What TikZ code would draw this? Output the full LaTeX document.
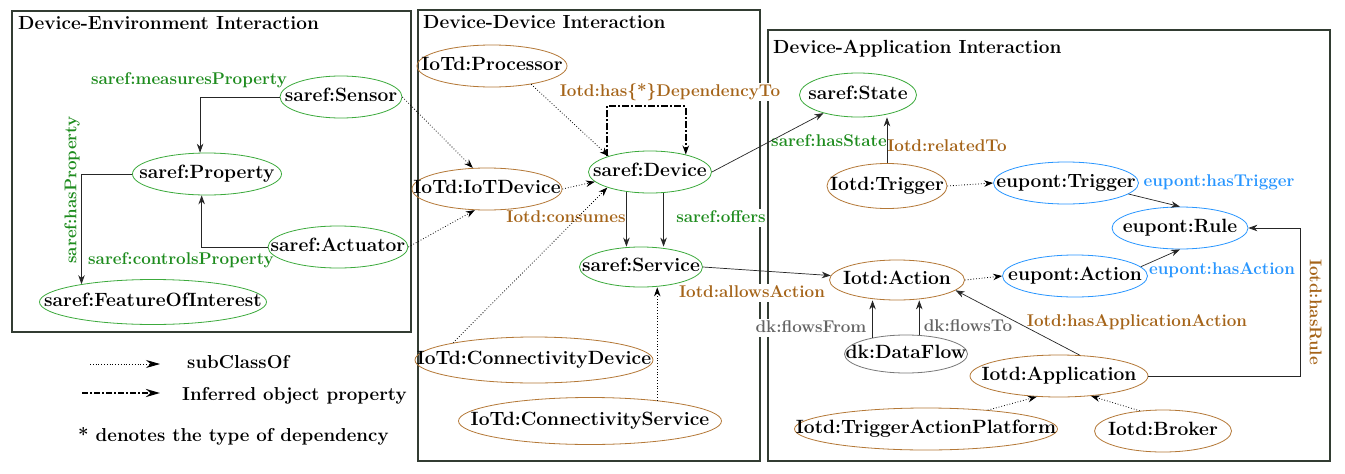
\documentclass[tikz,border=0pt]{standalone}
\usepackage{tikz}
\usetikzlibrary{arrows.meta,shapes.geometric}

\definecolor{sgreen}{RGB}{60,170,60}
\definecolor{lgreen}{RGB}{30,140,30}
\definecolor{ibrown}{RGB}{180,120,55}
\definecolor{lbrown}{RGB}{165,100,25}
\definecolor{eblue}{RGB}{40,150,255}
\definecolor{dgray}{RGB}{120,120,120}
\definecolor{lgray}{RGB}{100,100,100}
\definecolor{frame}{RGB}{50,60,50}

\begin{document}
\begin{tikzpicture}[x=1pt,y=-1pt,>={Stealth[length=9pt,width=6.5pt]},
    cnode/.style={ellipse,draw,line width=0.8pt,inner sep=0pt,minimum height=42pt,minimum width=#1pt,
      font=\fontsize{19.2}{23}\selectfont\bfseries,text height=13.5pt,text depth=4pt,
      execute at begin node={\hbox to 0pt\bgroup\hss},execute at end node={\hss\egroup}},
    snode/.style={cnode=#1,draw=sgreen},
    inode/.style={cnode=#1,draw=ibrown},
    enode/.style={cnode=#1,draw=eblue},
    dnode/.style={cnode=#1,draw=dgray},
    lbl/.style={font=\fontsize{17}{20}\selectfont\bfseries,fill=white,inner sep=1pt,text height=12pt,text depth=3.5pt},
    title/.style={font=\fontsize{19}{22}\selectfont\bfseries,anchor=base west,inner sep=0pt},
    legtxt/.style={font=\fontsize{18.7}{22}\selectfont\bfseries,anchor=west,inner sep=0pt},
    sub/.style={->,dotted,line width=0.8pt},
    rel/.style={->,line width=0.7pt,black!85},
    infer/.style={->,line width=2pt,dash pattern=on 7pt off 2pt on 2pt off 2pt}]

    \fill[white] (0,0) rectangle (1345,474);
    \useasboundingbox (0,0) rectangle (1345,474);

    % frames
    \draw[frame,line width=1.6pt] (12,11) rectangle (411,332);
    \draw[frame,line width=1.6pt] (418,10) rectangle (760,461);
    \draw[frame,line width=1.6pt] (768,30) rectangle (1330,461);
    \node[title] (t1) at (18,29) {Device-Environment Interaction};
    \node[title] (t2) at (423,28) {Device-Device Interaction};
    \node[title] (t3) at (773,53) {Device-Application Interaction};

    % edge labels (white behind, so they cut the frames)
    \node[lbl,text=lgreen] (lmeas) at (189,80) {saref:measuresProperty};
    \node[lbl,text=lgreen,rotate=90] (lhasprop) at (72,190) {saref:hasProperty};
    \node[lbl,text=lgreen] (lctrl) at (181,260) {saref:controlsProperty};
    \node[lbl,text=lbrown] (ldep) at (670,92) {Iotd:has\{*\}DependencyTo};
    \node[lbl,text=lbrown] (lcons) at (566,218) {Iotd:consumes};
    \node[lbl,text=lgreen] (loffers) at (721,218) {saref:offers};
    \node[lbl,text=lgreen] (lstate) at (829,142) {saref:hasState};
    \node[lbl,text=lbrown] (lallows) at (752,293) {Iotd:allowsAction};
    \node[lbl,text=lbrown] (lrel) at (947,147) {Iotd:relatedTo};
    \node[lbl,text=eblue] (lhastrig) at (1219,182) {eupont:hasTrigger};
    \node[lbl,text=eblue] (lhasact) at (1222,270) {eupont:hasAction};
    \node[lbl,text=lbrown,rotate=-90] (lhasrule) at (1314,312) {Iotd:hasRule};
    \node[lbl,text=lbrown] (lappact) at (1137,322) {Iotd:hasApplicationAction};
    \node[lbl,text=lgray] (lfrom) at (811,328) {dk:flowsFrom};
    \node[lbl,text=lgray] (lto) at (968,327) {dk:flowsTo};

    % device-environment
    \node[snode=122] (sensor) at (341,97) {saref:Sensor};
    \node[snode=149] (prop) at (207,174) {saref:Property};
    \node[snode=140] (actu) at (338,247) {saref:Actuator};
    \node[snode=227,minimum height=45pt] (foi) at (153,302) {saref:FeatureOfInterest};

    % device-device
    \node[inode=150] (proc) at (492,66) {IoTd:Processor};
    \node[inode=150] (iotdev) at (487,189) {IoTd:IoTDevice};
    \node[snode=123] (dev) at (650,172) {saref:Device};
    \node[snode=123,minimum height=40pt] (srv) at (641,267) {saref:Service};
    \node[inode=238,minimum height=46pt] (cdev) at (534,360) {IoTd:ConnectivityDevice};
    \node[inode=263,minimum height=47pt] (csrv) at (590,421) {IoTd:ConnectivityService};

    % device-application
    \node[snode=117,minimum height=44pt] (state) at (858,95) {saref:State};
    \node[inode=120,minimum height=45pt] (trig) at (887,186) {Iotd:Trigger};
    \node[enode=145] (etrig) at (1066,183) {eupont:Trigger};
    \node[enode=136] (rule) at (1180,228) {eupont:Rule};
    \node[inode=135,minimum height=40pt] (act) at (897,280) {Iotd:Action};
    \node[enode=145] (eact) at (1075,276) {eupont:Action};
    \node[dnode=123,minimum height=38pt] (flow) at (906,354) {dk:DataFlow};
    \node[inode=178] (app) at (1059,376) {Iotd:Application};
    \node[inode=263] (tap) at (926,429) {Iotd:TriggerActionPlatform};
    \node[inode=137] (brk) at (1163,431) {Iotd:Broker};

    \draw[rel] (sensor.west) -| (prop.108);
    \draw[rel] (prop.west) -| (foi.166);
    \draw[rel] (actu.west) -| (prop.256);
    \draw[rel] (dev.220) -- (dev.220 |- srv.north);
    \draw[rel] (dev.303) -- (dev.303 |- srv.north);
    \draw[rel] (dev.east) -- (state);
    \draw[rel] (srv.east) -- (act);
    \draw[rel] (trig.north) -- (trig.north |- state.south);
    \draw[rel] (etrig.-10) -- (rule.north);
    \draw[rel] (eact.8) -- (rule.south);
    \draw[rel] (app.east) -- ++(152,0) |- (rule.east);
    \draw[rel] (app.45) -- (act.-10);
    \draw[rel] (flow.154) -- (flow.154 |- act.south);
    \draw[rel] (flow.55) -- (flow.55 |- act.south);
    \draw[infer] (dev.160) -- ++(0,-50) -| (dev.26);

   \begin{scope}[sub]
    \draw (sensor.east) to (iotdev.124);
    \draw (actu.east) to (iotdev.240);
    \draw (iotdev.east) to (dev.190);
    \draw (proc.-25) to (dev.159);
    \draw (cdev.168) to (dev.200);
    \draw (csrv.17) to (csrv.17 |- srv.south);
    \draw (trig.east) to (etrig.west);
    \draw (act.east) to (eact.west);
    \draw (tap.17) to (app.223);
    \draw (brk.139) to (app.-32);
   \end{scope}

    % legend
    \coordinate (s1) at (90,364);
    \coordinate (s2) at (160,364);
    \coordinate (i1) at (82,393);
    \coordinate (i2) at (160,393);
    \draw[dotted,line width=0.8pt,-{Stealth[length=14pt,width=8pt]}] (s1) -- (s2);
    \draw[line width=2.5pt,dash pattern=on 6pt off 2pt on 2pt off 2pt,-{Stealth[length=14pt,width=8pt]}] (i1) -- (i2);
    \node[legtxt] (lsub) at (187,362) {subClassOf};
    \node[legtxt] (linf) at (182,396) {Inferred object property};
    \node[legtxt] (lnote) at (78,436) {* denotes the type of dependency};
\end{tikzpicture}
\end{document}
